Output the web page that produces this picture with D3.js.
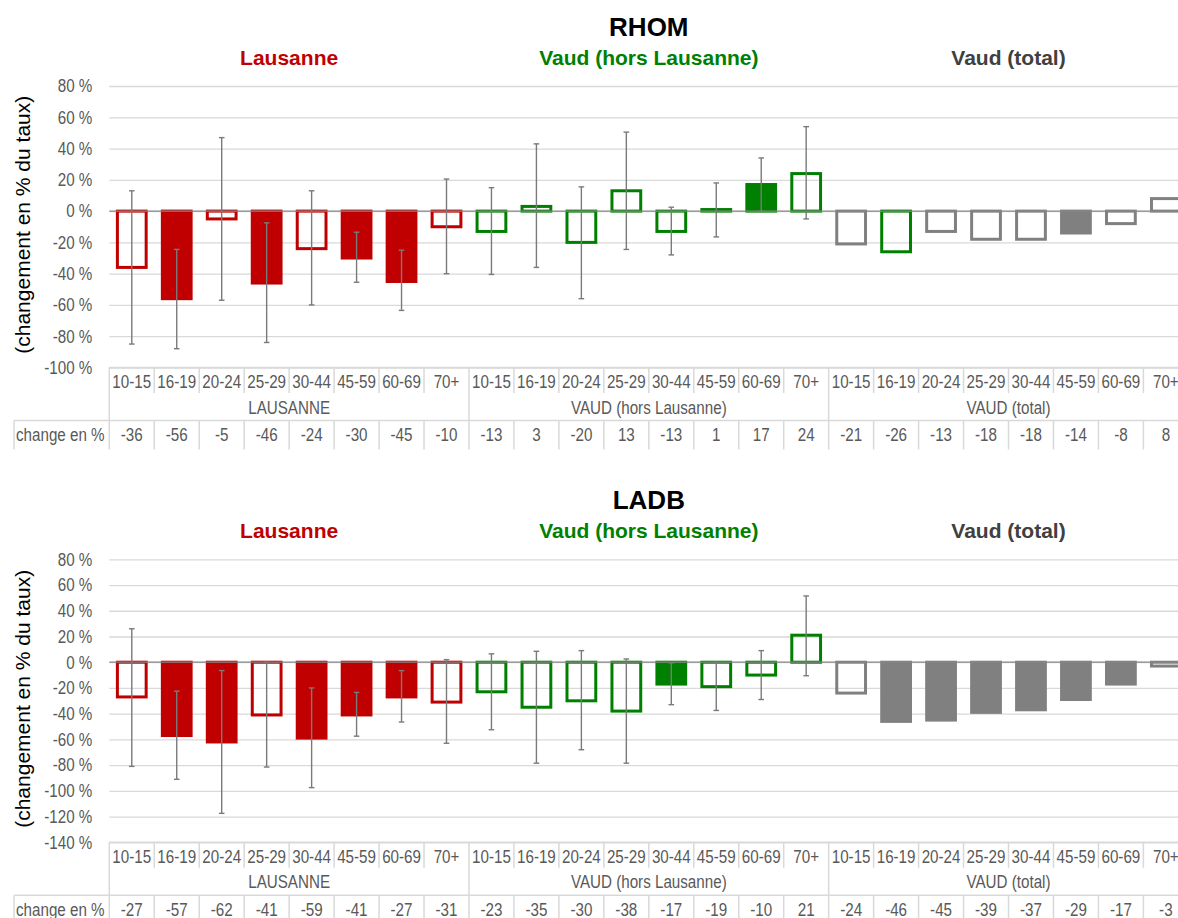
<!DOCTYPE html>
<html>
<head>
<meta charset="utf-8">
<script src="https://cdn.jsdelivr.net/npm/d3@7"></script>
<style>
  body { margin: 0; background: #fff; }
  .narrow { font-family: "Liberation Sans Narrow", "Arial Narrow", "Liberation Sans", Arial, sans-serif; }
  .bold { font-family: "Liberation Sans", Arial, sans-serif; font-weight: bold; }
</style>
</head>
<body>
<div class="chart"></div>
<script>
// Section 1: data
var ageGroups = ["10-15", "16-19", "20-24", "25-29", "30-44", "45-59", "60-69", "70+"];
var regionLabels = ["LAUSANNE", "VAUD (hors Lausanne)", "VAUD (total)"];
var regionTitles = ["Lausanne", "Vaud (hors Lausanne)", "Vaud (total)"];

// RHOM
var rhomLausanne = [-36, -56, -5, -46, -24, -30, -45, -10];
var rhomVaudHors = [-13, 3, -20, 13, -13, 1, 17, 24];
var rhomVaudTotal = [-21, -26, -13, -18, -18, -14, -8, 8];
var rhomFilled = [0, 1, 0, 1, 0, 1, 1, 0,  0, 0, 0, 0, 0, 0, 1, 0,  0, 0, 0, 0, 0, 1, 0, 0];
var rhomErrHigh = [13, -24.5, 47, -7.5, 13, -13.5, -25, 20.5,  15, 43, 15.5, 50.5, 2.5, 18, 34, 54];
var rhomErrLow = [-85, -88, -57, -84, -60, -45.5, -63.5, -40,  -40.5, -36, -56, -24.5, -28, -16.5, 0, -5];

// LADB
var ladbLausanne = [-27, -57, -62, -41, -59, -41, -27, -31];
var ladbVaudHors = [-23, -35, -30, -38, -17, -19, -10, 21];
var ladbVaudTotal = [-24, -46, -45, -39, -37, -29, -17, -3];
var ladbFilled = [0, 1, 1, 0, 1, 1, 1, 0,  0, 0, 0, 0, 1, 0, 0, 0,  0, 1, 1, 1, 1, 1, 1, 0];
var ladbErrHigh = [26, -22.5, -6.5, 0, -20, -23.5, -6.5, 2,  6.5, 8.5, 9, 2.5, -0.5, 0, 9, 51.5];
var ladbErrLow = [-81, -91, -117.5, -81.5, -97.5, -57.5, -46.5, -63,  -52.5, -78.5, -68, -78.5, -33, -37.5, -29, -10.5];

// Section 2: layout
var svgWidth = 1178;
var svgHeight = 918;
var regionColours = ["#C00000", "#008000", "#808080"];
var titleColours = ["#C00000", "#008000", "#404040"];
var plotLeft = 109.3;
var cellWidth = 44.96;
var squeeze = 0.83; // no narrow font installed: squeeze regular glyphs
var smallFont = "18.3px";

var svg = d3
  .select(".chart")
  .append("svg")
  .attr("width", svgWidth)
  .attr("height", svgHeight);

var x = d3
  .scaleBand()
  .domain(d3.range(24))
  .range([plotLeft, plotLeft + 24 * cellWidth])
  .paddingInner(0.36)
  .paddingOuter(0.18);

// fake a condensed face with textLength
function condense(sel) {
  sel.each(function () {
    var w = this.getComputedTextLength();
    d3.select(this)
      .attr("textLength", w * squeeze)
      .attr("lengthAdjust", "spacingAndGlyphs");
  });
}

function drawPanel(cfg) {
  var g = svg.append("g");
  var y = d3
    .scaleLinear()
    .domain([cfg.yMin, 80])
    .range([cfg.plotBottom, cfg.plotTop]);
  var tickValues = d3.range(cfg.yMin, 81, 20);
  var right = x.range()[1];

  // gridlines
  var grid = g
    .append("g")
    .attr("transform", `translate(${plotLeft}, 0)`)
    .call(d3.axisLeft(y).tickValues(tickValues).tickSize(-(right - plotLeft)).tickFormat(""));
  grid.select(".domain").remove();
  grid.selectAll("line").attr("stroke", "#D9D9D9").attr("stroke-width", 1.3);

  // tick labels
  var yAxis = g
    .append("g")
    .attr("transform", `translate(${plotLeft}, 0)`)
    .call(d3.axisLeft(y).tickValues(tickValues).tickSize(0).tickPadding(17).tickFormat((d) => d + " %"));
  yAxis.select(".domain").remove();
  yAxis.attr("font-family", null).attr("font-size", null);
  yAxis
    .selectAll("text")
    .attr("class", "narrow")
    .attr("font-size", smallFont)
    .attr("fill", "#595959")
    .call(condense);

  // y label
  g.append("text")
    .attr("transform", `translate(22, ${(cfg.plotTop + cfg.plotBottom) / 2 - 2}) rotate(-90)`)
    .attr("text-anchor", "middle")
    .attr("dominant-baseline", "central")
    .attr("font-family", "Liberation Sans, Arial, sans-serif")
    .attr("font-size", "21px")
    .attr("fill", "#000")
    .text("(changement en % du taux)");

  // titles
  g.append("text")
    .attr("class", "bold")
    .attr("x", plotLeft + 12 * cellWidth)
    .attr("y", cfg.plotTop - 59.5)
    .attr("text-anchor", "middle")
    .attr("dominant-baseline", "central")
    .attr("font-size", "26px")
    .attr("fill", "#000")
    .text(cfg.title);

  regionTitles.forEach(function (t, i) {
    g.append("text")
      .attr("class", "bold")
      .attr("x", plotLeft + (i * 8 + 4) * cellWidth)
      .attr("y", cfg.plotTop - 28.7)
      .attr("text-anchor", "middle")
      .attr("dominant-baseline", "central")
      .attr("font-size", "21px")
      .attr("fill", titleColours[i])
      .text(t);
  });

  // bars
  var data = cfg.values.map(function (v, i) {
    return {
      i: i,
      value: v,
      filled: cfg.filled[i] === 1,
      colour: cfg.colours[i],
      hi: i < cfg.errHigh.length ? cfg.errHigh[i] : null,
      lo: i < cfg.errLow.length ? cfg.errLow[i] : null,
    };
  });

  g.append("g")
    .selectAll("rect")
    .data(data)
    .enter()
    .append("rect")
    .attr("x", (d) => x(d.i))
    .attr("width", x.bandwidth())
    .attr("y", (d) => y(Math.max(0, d.value)))
    .attr("height", (d) => Math.abs(y(d.value) - y(0)))
    .attr("fill", (d) => (d.filled ? d.colour : "none"))
    .attr("stroke", (d) => d.colour)
    .attr("stroke-width", 3);

  // zero line
  g.append("line")
    .attr("x1", plotLeft)
    .attr("x2", right)
    .attr("y1", y(0))
    .attr("y2", y(0))
    .attr("stroke", "#868686")
    .attr("stroke-width", 1.3);

  // error bars
  var errData = data.filter((d) => d.hi !== null);
  var eb = g.append("g").attr("stroke", "#7A7A7A").attr("stroke-width", 1.4);
  eb.selectAll(".ev")
    .data(errData)
    .enter()
    .append("line")
    .attr("x1", (d) => x(d.i) + x.bandwidth() / 2)
    .attr("x2", (d) => x(d.i) + x.bandwidth() / 2)
    .attr("y1", (d) => y(d.hi))
    .attr("y2", (d) => y(d.lo));
  ["hi", "lo"].forEach(function (k) {
    eb.selectAll(".cap-" + k)
      .data(errData)
      .enter()
      .append("line")
      .attr("x1", (d) => x(d.i) + x.bandwidth() / 2 - 2.8)
      .attr("x2", (d) => x(d.i) + x.bandwidth() / 2 + 2.8)
      .attr("y1", (d) => y(d[k]))
      .attr("y2", (d) => y(d[k]));
  });

  // category table
  var tTop = cfg.plotBottom;
  var t = g.append("g");
  var lineCol = "#D9D9D9";
  function tline(x1, y1, x2, y2) {
    t.append("line")
      .attr("x1", x1).attr("y1", y1).attr("x2", x2).attr("y2", y2)
      .attr("stroke", lineCol).attr("stroke-width", 1.5);
  }
  tline(plotLeft, tTop, right, tTop);
  tline(14, tTop + 53, right, tTop + 53);
  tline(14, tTop + 53, 14, tTop + 82);
  for (var i = 0; i <= 24; i++) {
    var cx = plotLeft + i * cellWidth;
    if (i % 8 === 0) tline(cx, tTop, cx, tTop + 82);
    else {
      tline(cx, tTop, cx, tTop + 25.5);
      tline(cx, tTop + 53, cx, tTop + 82);
    }
  }

  var txt = t.append("g").attr("class", "narrow").attr("font-size", smallFont).attr("fill", "#595959")
    .attr("text-anchor", "middle").attr("dominant-baseline", "central");
  txt.selectAll(".age")
    .data(data)
    .enter()
    .append("text")
    .attr("x", (d) => plotLeft + (d.i + 0.5) * cellWidth)
    .attr("y", tTop + 14.2)
    .text((d) => ageGroups[d.i % 8]);
  txt.selectAll(".reg")
    .data(regionLabels)
    .enter()
    .append("text")
    .attr("x", (d, i) => plotLeft + (i * 8 + 4) * cellWidth)
    .attr("y", tTop + 39.5)
    .text((d) => d);
  txt.selectAll(".val")
    .data(data)
    .enter()
    .append("text")
    .attr("x", (d) => plotLeft + (d.i + 0.5) * cellWidth)
    .attr("y", tTop + 66.8)
    .text((d) => d.value);
  txt.append("text")
    .attr("x", 16)
    .attr("y", tTop + 66.8)
    .attr("text-anchor", "start")
    .text("change en %");
  txt.selectAll("text").call(condense);
}

function colourList(overrides) {
  var list = [];
  for (var i = 0; i < 24; i++) list.push(regionColours[Math.floor(i / 8)]);
  (overrides || []).forEach(function (o) { list[o[0]] = regionColours[o[1]]; });
  return list;
}

drawPanel({
  title: "RHOM",
  plotTop: 86,
  plotBottom: 367.5,
  yMin: -100,
  values: rhomLausanne.concat(rhomVaudHors, rhomVaudTotal),
  filled: rhomFilled,
  errHigh: rhomErrHigh,
  errLow: rhomErrLow,
  // the 16-19 bar of Vaud (total) is outlined in green in the original
  colours: colourList([[17, 1]]),
});

drawPanel({
  title: "LADB",
  plotTop: 559.3,
  plotBottom: 842.3,
  yMin: -140,
  values: ladbLausanne.concat(ladbVaudHors, ladbVaudTotal),
  filled: ladbFilled,
  errHigh: ladbErrHigh,
  errLow: ladbErrLow,
  colours: colourList(),
});
</script>
</body>
</html>
